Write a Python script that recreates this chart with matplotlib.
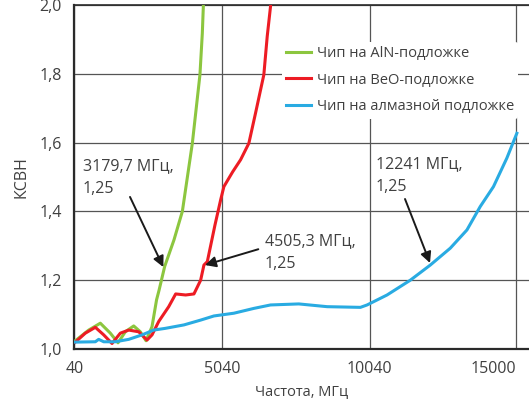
import matplotlib
matplotlib.use('Agg')
import matplotlib.pyplot as plt

plt.rcParams['font.family'] = ['Open Sans', 'DejaVu Sans']

# Chip on AlN substrate
aln_f = [74, 527, 920, 1259, 1519, 1766, 2051, 2274, 2467, 2670, 2824, 2906, 3099, 3413, 3697, 4035,
         4292, 4373, 4407, 4430]
aln_v = [1.024, 1.055, 1.075, 1.046, 1.018, 1.05, 1.067, 1.05, 1.024, 1.065, 1.143, 1.17, 1.24, 1.317,
         1.40, 1.598, 1.797, 1.918, 1.996, 2.05]

# Chip on BeO substrate
beo_f = [74, 412, 751, 1035, 1316, 1597, 1881, 2220, 2501, 2670, 2897, 3235, 3471, 3809, 4089, 4316,
         4427, 4542, 4800, 4992, 5103, 5400, 5668, 5948, 6175, 6455, 6570, 6682, 6720]
beo_v = [1.02, 1.046, 1.063, 1.041, 1.016, 1.046, 1.055, 1.05, 1.026, 1.041, 1.08, 1.123, 1.16, 1.157,
         1.16, 1.20, 1.244, 1.254, 1.36, 1.433, 1.472, 1.515, 1.55, 1.598, 1.686, 1.797, 1.909, 1.996, 2.05]

# Chip on diamond substrate
dia_f = [74, 751, 865, 1035, 1428, 1881, 2332, 2728, 3121, 3751, 4316, 4765, 5441, 6117, 6682,
         7638, 8598, 9724, 9950, 10626, 11414, 12090, 12766, 13330, 13780, 14229, 14682, 15020]
dia_v = [1.02, 1.021, 1.028, 1.021, 1.021, 1.028, 1.041, 1.055, 1.06, 1.07, 1.084, 1.096, 1.104, 1.118,
         1.128, 1.131, 1.123, 1.121, 1.128, 1.157, 1.20, 1.244, 1.293, 1.346, 1.414, 1.472, 1.555, 1.627]

x_ticks = [40, 5040, 10040, 15000]
y_ticks = [1.0, 1.2, 1.4, 1.6, 1.8, 2.0]
y_labels = ['1,0', '1,2', '1,4', '1,6', '1,8', '2,0']

labels = ['Чип на AlN-подложке', 'Чип на BeO-подложке', 'Чип на алмазной подложке']

notes = [('3179,7 МГц,\n1,25', (334, 1.556), (1925, 1.442), (3053, 1.238)),
         ('4505,3 МГц,\n1,25', (6495, 1.338), (6268, 1.290), (4464, 1.244)),
         ('12241 МГц,\n1,25', (10253, 1.562), (11234, 1.436), (12080, 1.250))]

txt = '#404040'

fig = plt.figure(figsize=(5.29, 4.05), dpi=100)
ax = fig.add_axes([0.1405, 0.1383, 0.8596, 0.8494])

ax.plot(aln_f, aln_v, color='#8cc63f', lw=2.2, label=labels[0], zorder=3)
ax.plot(beo_f, beo_v, color='#ed1c24', lw=2.2, label=labels[1], zorder=3)
ax.plot(dia_f, dia_v, color='#29abe2', lw=2.2, label=labels[2], zorder=3)

ax.set_xlim(40, 15433)
ax.set_ylim(1.0, 2.0)
ax.set_xticks(x_ticks)
ax.set_xticklabels([str(t) for t in x_ticks])
ax.set_yticks(y_ticks)
ax.set_yticklabels(y_labels)
ax.tick_params(length=0, labelsize=11.5, colors=txt, pad=9)
ax.get_xticklabels()[-1].set_ha('right')
ax.grid(True, color='#555555', lw=0.9)
ax.set_axisbelow(True)

for s in ['left', 'bottom']:
    ax.spines[s].set_linewidth(1.6)
    ax.spines[s].set_color('#2a2a2a')
ax.spines['top'].set_linewidth(1.2)
ax.spines['top'].set_color('#2a2a2a')
ax.spines['right'].set_visible(False)

ax.set_xlabel('Частота, МГц', fontsize=10.5, color=txt, labelpad=5)
ax.set_ylabel('КСВН', fontsize=11.5, color=txt, labelpad=7)

leg = ax.legend(loc='upper left', bbox_to_anchor=(0.44, 0.915), fontsize=10.5, frameon=True,
                handlelength=1.7, handletextpad=0.4, labelspacing=0.8, borderpad=0.3)
leg.get_frame().set_facecolor('white')
leg.get_frame().set_edgecolor('none')
leg.get_frame().set_alpha(1)
for t in leg.get_texts():
    t.set_color(txt)

for text, pos, tail, tip in notes:
    ax.text(pos[0], pos[1], text, fontsize=11.5, color=txt, ha='left', va='top', linespacing=1.6)
    ax.annotate('', xy=tip, xytext=tail,
                arrowprops=dict(arrowstyle='-|>', color='#1a1a1a', lw=1.4, mutation_scale=16,
                                shrinkA=0, shrinkB=0))

plt.savefig('out.png', dpi=100)
